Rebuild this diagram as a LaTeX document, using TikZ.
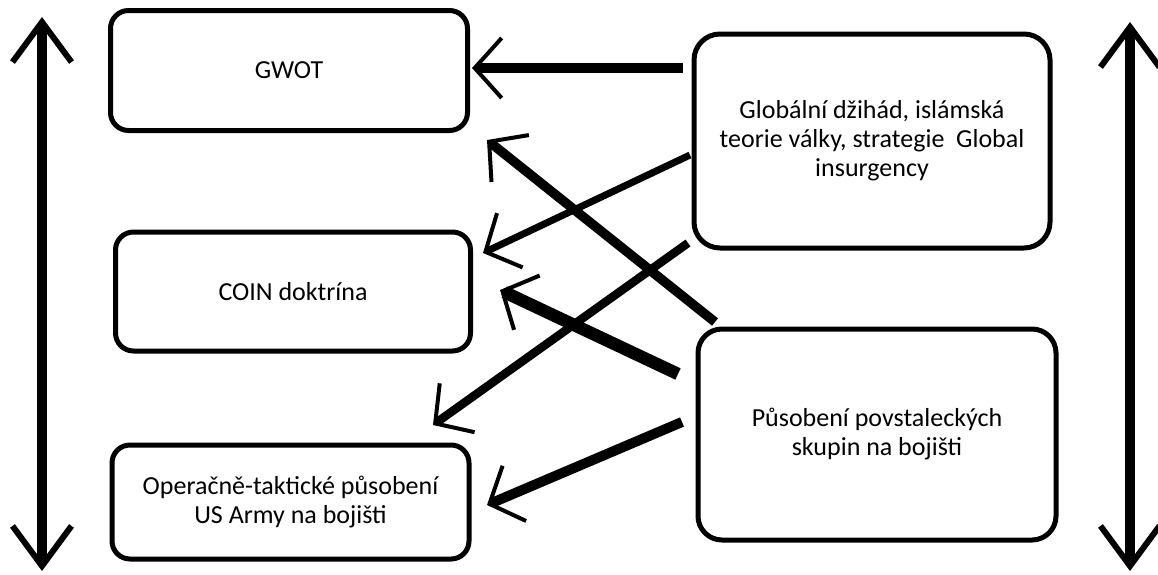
\documentclass[tikz,border=0pt]{standalone}
\usepackage{fontspec}
\setmainfont{Carlito}
\usetikzlibrary{arrows.meta}
\begin{document}
\begin{tikzpicture}[x=1pt,y=-1pt,
  box/.style={draw=black, line width=5pt, rounded corners=#1, fill=white, inner sep=0pt,
    align=center, font=\fontsize{26}{29}\selectfont},
  box/.default=18pt,
  barb/.tip={Straight Barb[length=27pt,width=60pt,line width'=4pt]},
  link/.style={line width=#1, line cap=butt, -barb},
  vbarb/.tip={Straight Barb[length=40pt,width=59pt,line width'=6pt]},
  axis/.style={line width=9.5pt, vbarb-vbarb}]
\useasboundingbox (0,0) rectangle (1158,574);
% boxes
\node[box, minimum width=357pt, minimum height=120pt] (gwot) at (289,70.5) {GWOT};
\node[box, minimum width=355pt, minimum height=119pt] (coin) at (293,291.5) {COIN doktrína};
\node[box, minimum width=357pt, minimum height=114pt] (oper) at (290.5,502) {Operačně-taktické působení\\US Army na bojišti};
\node[box=26pt, minimum width=356pt, minimum height=214pt] (glob) at (872,141) {Globální džihád, islámská\\teorie války, strategie\ \ Global\\insurgency};
\node[box=24pt, minimum width=358pt, minimum height=211pt] (pus) at (877,434.5) {Působení povstaleckých\\skupin na bojišti};
% free ends
\coordinate (s1) at (683,68);   \coordinate (t1) at (472,68);
\coordinate (s2) at (715,322);  \coordinate (t2) at (487,140);
\coordinate (s3) at (690,155);  \coordinate (t3) at (483,253);
\coordinate (s4) at (678,374);  \coordinate (t4) at (500,290);
\coordinate (s5) at (688,243);  \coordinate (t5) at (433,425);
\coordinate (s6) at (682,422);  \coordinate (t6) at (487,505);
% connectors
\draw[link=10pt] (s1) -- (t1);
\draw[link=9.5pt] (s2) -- (t2);
\draw[link=7pt] (s3) -- (t3);
\draw[link=12.5pt] (s4) -- (t4);
\draw[link=8.5pt] (s5) -- (t5);
\draw[link=10pt] (s6) -- (t6);
% side axes
\coordinate (la) at (42,17);   \coordinate (lb) at (42,571);
\coordinate (ra) at (1130,22); \coordinate (rb) at (1130,571);
\draw[axis] (la) -- (lb);
\draw[axis] (ra) -- (rb);
\end{tikzpicture}
\end{document}
